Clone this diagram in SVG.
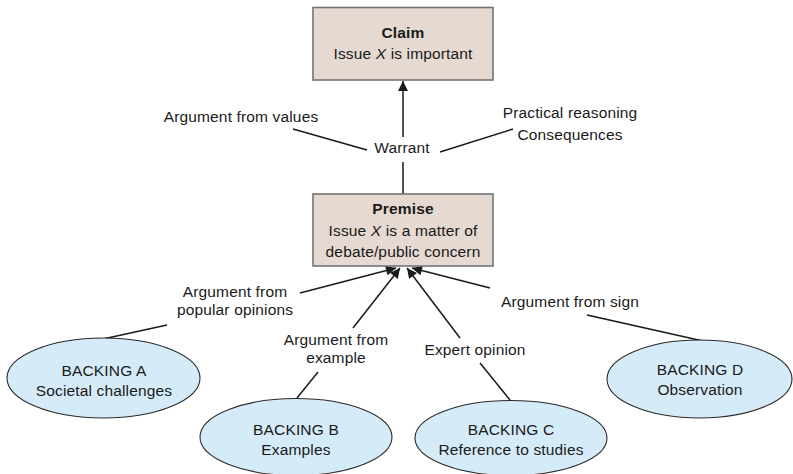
<svg xmlns="http://www.w3.org/2000/svg" width="793" height="474" viewBox="0 0 793 474">
  <defs>
    <marker id="arrow" viewBox="0 0 10 10" refX="10" refY="5" markerWidth="11" markerHeight="10" markerUnits="userSpaceOnUse" orient="auto">
      <path d="M0,0 L10,5 L0,10 z" fill="#1a1a1a"/>
    </marker>
    <style>
      text { font-family: "Liberation Sans", Arial, sans-serif; font-size: 15.5px; fill: #1a1a1a; letter-spacing: 0.15px; }
      .c { text-anchor: middle; }
      .b { font-weight: bold; }
      .box { fill: #e5d9d1; stroke: #737373; stroke-width: 1.6; }
      .oval { fill: #d5ebf8; stroke: #2a2a2a; stroke-width: 1.1; }
      .ln { stroke: #1a1a1a; stroke-width: 1.5; fill: none; }
    </style>
  </defs>

  <!-- connectors -->
  <g id="connectors">
    <line class="ln" x1="403" y1="137" x2="403" y2="81" marker-end="url(#arrow)"/>
    <line class="ln" x1="403" y1="162" x2="403" y2="194"/>
    <line class="ln" x1="293" y1="129" x2="367" y2="150"/>
    <line class="ln" x1="440" y1="152" x2="513" y2="129"/>

    <line class="ln" x1="103" y1="339" x2="167" y2="325"/>
    <line class="ln" x1="300" y1="293" x2="396" y2="268" marker-end="url(#arrow)"/>

    <line class="ln" x1="297" y1="398" x2="318" y2="372"/>
    <line class="ln" x1="353" y1="328" x2="400" y2="268" marker-end="url(#arrow)"/>

    <line class="ln" x1="510" y1="400" x2="480" y2="363"/>
    <line class="ln" x1="460" y1="338" x2="407" y2="268" marker-end="url(#arrow)"/>

    <line class="ln" x1="703" y1="341" x2="587" y2="315"/>
    <line class="ln" x1="490" y1="288" x2="412" y2="268" marker-end="url(#arrow)"/>
  </g>

  <!-- claim -->
  <g id="claim">
    <rect class="box" x="313" y="7.5" width="180" height="72.5"/>
    <text class="c b" x="403" y="38">Claim</text>
    <text class="c" x="403" y="59">Issue <tspan font-style="italic">X</tspan> is important</text>
  </g>

  <!-- warrant labels -->
  <g id="warrant">
    <text class="c" x="402" y="153">Warrant</text>
  </g>
  <g id="values">
    <text class="c" x="241" y="122">Argument from values</text>
  </g>
  <g id="practical">
    <text class="c" x="570" y="118">Practical reasoning</text>
    <text class="c" x="570" y="140">Consequences</text>
  </g>

  <!-- premise -->
  <g id="premise">
    <rect class="box" x="313" y="194" width="180" height="72"/>
    <text class="c b" x="403" y="214">Premise</text>
    <text class="c" x="403" y="236">Issue <tspan font-style="italic">X</tspan> is a matter of</text>
    <text class="c" x="403" y="257">debate/public concern</text>
  </g>

  <!-- argument labels -->
  <g id="label-popular">
    <text class="c" x="235" y="297">Argument from</text>
    <text class="c" x="235" y="315">popular opinions</text>
  </g>
  <g id="label-example">
    <text class="c" x="336" y="345">Argument from</text>
    <text class="c" x="336" y="363">example</text>
  </g>
  <g id="label-expert">
    <text class="c" x="475" y="355">Expert opinion</text>
  </g>
  <g id="label-sign">
    <text class="c" x="570" y="307">Argument from sign</text>
  </g>

  <!-- backings -->
  <g id="backing-a">
    <ellipse class="oval" cx="103.5" cy="378" rx="96.5" ry="40"/>
    <text class="c" x="104" y="376">BACKING A</text>
    <text class="c" x="104" y="396">Societal challenges</text>
  </g>
  <g id="backing-b">
    <ellipse class="oval" cx="296" cy="437" rx="96" ry="38.5"/>
    <text class="c" x="296" y="435">BACKING B</text>
    <text class="c" x="296" y="455">Examples</text>
  </g>
  <g id="backing-c">
    <ellipse class="oval" cx="511" cy="438" rx="96" ry="37.5"/>
    <text class="c" x="511" y="435">BACKING C</text>
    <text class="c" x="511" y="455">Reference to studies</text>
  </g>
  <g id="backing-d">
    <ellipse class="oval" cx="699.5" cy="379" rx="92.5" ry="39"/>
    <text class="c" x="700" y="375">BACKING D</text>
    <text class="c" x="700" y="395">Observation</text>
  </g>
</svg>
